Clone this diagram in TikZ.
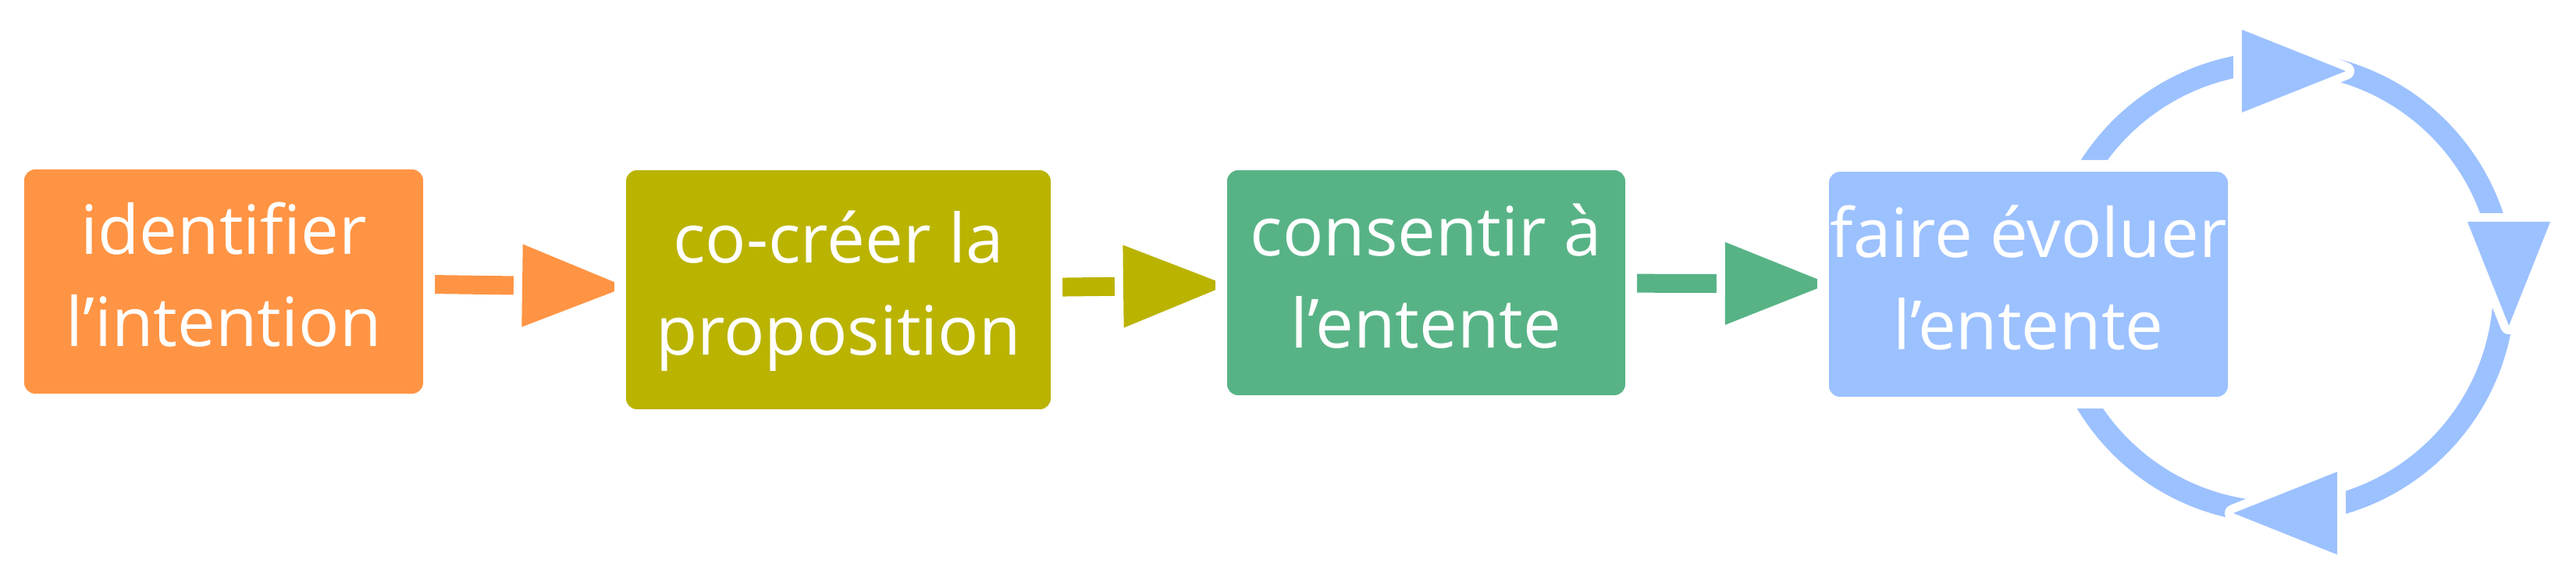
\documentclass[tikz,border=0pt]{standalone}
\usepackage{fontspec}
\setmainfont{Open Sans}[Ligatures={NoCommon}]
\usetikzlibrary{shapes.geometric,backgrounds}
\definecolor{stepone}{RGB}{255,148,68}
\definecolor{steptwo}{RGB}{186,179,0}
\definecolor{stepthree}{RGB}{87,179,134}
\definecolor{stepfour}{RGB}{156,193,255}
\newcommand{\tstrut}{\rule[-0.345cm]{0pt}{1.18cm}}

\begin{document}
\begin{tikzpicture}[y=-1cm,
    stage/.style={rectangle, rounded corners=0.14cm, inner sep=0pt, outer sep=0pt,
      text=white, align=center, font=\fontsize{24.75pt}{1.18cm}\selectfont,
      preaction={draw=white, line width=0.3cm}},
    flow/.style={line width=0.24cm},
    ring/.style={line width=0.28cm, stepfour},
    head/.style={isosceles triangle, isosceles triangle stretches, inner sep=0pt, outer sep=0pt,
      minimum width=1.06cm, minimum height=1.33cm,
      preaction={draw=white, line width=0.22cm, line join=round}}]
  \useasboundingbox (0,0) rectangle (33,7.4);
  \node[stage, fill=stepone, minimum width=5.11cm, minimum height=2.87cm] (intention)
    at (2.865,3.605) {\tstrut identifier\\\tstrut l’intention};
  \node[stage, fill=steptwo, minimum width=5.44cm, minimum height=3.06cm] (proposition)
    at (10.74,3.71) {\tstrut co-créer la\\\tstrut proposition};
  \node[stage, fill=stepthree, minimum width=5.10cm, minimum height=2.88cm] (consent)
    at (18.27,3.62) {\tstrut consentir à\\\tstrut l’entente};
  \node[stage, fill=stepfour, minimum width=5.11cm, minimum height=2.88cm] (evolve)
    at (25.985,3.64) {\tstrut faire évoluer\\\tstrut l’entente};
  \coordinate (loop) at (29.20,3.68);
  \begin{scope}[on background layer]
    \draw[flow, stepone] (intention) -- (proposition)
      node[head, fill=stepone, pos=1, sloped, anchor=apex] {};
    \draw[flow, steptwo] (proposition) -- (consent)
      node[head, fill=steptwo, pos=1, sloped, anchor=apex] {};
    \draw[flow, stepthree] (consent) -- (evolve)
      node[head, fill=stepthree, pos=1, sloped, anchor=apex] {};
    \draw[ring] (loop) circle[radius=2.88];
    \node[head, fill=stepfour, anchor=apex] (turntop) at (30.05,0.91) {};
    \node[head, fill=stepfour, anchor=apex, shape border rotate=270] (turnright) at (32.14,4.17) {};
    \node[head, fill=stepfour, anchor=apex, shape border rotate=180] (turnbottom) at (28.61,6.57) {};
  \end{scope}
\end{tikzpicture}
\end{document}
